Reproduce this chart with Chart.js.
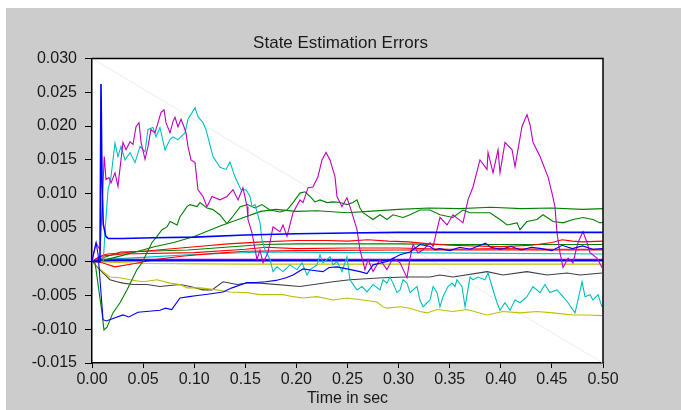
<!DOCTYPE html>
<html>
<head>
<meta charset="utf-8">
<script src="https://cdn.jsdelivr.net/npm/chart.js@4/dist/chart.umd.min.js"></script>
<style>
html,body{margin:0;padding:0;background:#fff;}
#wrap{width:681px;height:410px;}
</style>
</head>
<body>
<div id="wrap"><canvas id="c" width="681" height="410"></canvas></div>
<script>
// ---------- data (time in sec, error) ----------
const chartTitle = "State Estimation Errors";
const xTitle = "Time in sec";
const xTicks = [0,0.05,0.10,0.15,0.20,0.25,0.30,0.35,0.40,0.45,0.50];
const yTicks = [-0.015,-0.010,-0.005,0,0.005,0.010,0.015,0.020,0.025,0.030];

const magentaT = [0,0.001,0.004,0.008,0.010,0.012,0.0137,0.0166,0.0186,0.0225,0.0254,0.0303,0.0333,0.0372,0.0401,0.0431,0.046,0.048,0.0519,0.0548,0.0577,0.0616,0.0646,0.0675,0.0705,0.0724,0.0763,0.0793,0.0812,0.0841,0.0871,0.09,0.092,0.0939,0.0969,0.1008,0.1037,0.1086,0.1125,0.1174,0.1252,0.1321,0.138,0.1429,0.1477,0.1517,0.1526,0.1566,0.1614,0.1644,0.1673,0.1722,0.1771,0.184,0.1869,0.1908,0.1967,0.2035,0.2065,0.2114,0.2162,0.2211,0.225,0.229,0.2329,0.2378,0.2397,0.2446,0.2495,0.2524,0.2555,0.2593,0.2622,0.2671,0.2701,0.275,0.2818,0.2886,0.2945,0.3014,0.3082,0.3112,0.3141,0.319,0.3239,0.3307,0.3337,0.3376,0.3405,0.3474,0.3532,0.363,0.3679,0.3728,0.3796,0.3865,0.3875,0.3924,0.3973,0.3992,0.4041,0.411,0.4139,0.4207,0.4256,0.4286,0.4315,0.4384,0.4462,0.4501,0.453,0.455,0.4579,0.4609,0.4658,0.4706,0.4755,0.4804,0.4843,0.4873,0.4941,0.499];
const magentaV = [0,0.0007,0.0027,0.0017,0.0087,0.0155,0.0121,0.0124,0.0116,0.0131,0.0111,0.0176,0.0165,0.0177,0.0173,0.0199,0.0205,0.0176,0.0151,0.017,0.0195,0.019,0.0205,0.022,0.0224,0.0205,0.019,0.0207,0.0213,0.0199,0.021,0.0199,0.019,0.017,0.015,0.0146,0.0106,0.0096,0.0081,0.0096,0.0091,0.0096,0.0106,0.0091,0.0109,0.0081,0.0062,0.0042,0.0003,0.0017,-0.0002,0.0013,0.0051,0.0044,0.0054,0.0037,0.0072,0.0091,0.0087,0.0109,0.011,0.0125,0.015,0.0161,0.015,0.0125,0.0096,0.0081,0.0094,0.0081,0.0066,0.0047,0.0017,-0.0012,0.0003,-0.0015,0.0003,-0.0012,0.0005,-0.0002,-0.0024,0.0005,0.0025,0.0013,0.0017,0.0028,0.0022,0.0047,0.0065,0.0054,0.0069,0.0057,0.0091,0.011,0.015,0.0136,0.0161,0.0131,0.0165,0.0131,0.0176,0.0165,0.014,0.0199,0.0217,0.0202,0.0176,0.0155,0.0125,0.0101,0.0081,0.0042,0.0013,-0.0009,0.0005,-0.0002,0.0028,0.0044,0.0028,0.0013,0.0005,-0.0009];

const cyanT = [0,0.011,0.013,0.0157,0.0186,0.0225,0.0254,0.0284,0.0323,0.0372,0.0421,0.047,0.0519,0.0548,0.0597,0.0626,0.0665,0.0714,0.0763,0.0793,0.0841,0.091,0.0939,0.1008,0.1037,0.1086,0.1115,0.1184,0.1252,0.1311,0.135,0.1399,0.1458,0.1507,0.1546,0.1566,0.1595,0.1644,0.1663,0.1693,0.1742,0.1771,0.181,0.1869,0.1937,0.2006,0.2055,0.2104,0.2133,0.2202,0.2231,0.226,0.2329,0.2358,0.2397,0.2446,0.2495,0.2524,0.2593,0.2642,0.2691,0.275,0.2818,0.2847,0.2886,0.2916,0.2945,0.2984,0.3014,0.3043,0.3082,0.3112,0.3141,0.318,0.3209,0.3239,0.3278,0.3307,0.3337,0.3376,0.3405,0.3434,0.3483,0.3523,0.3552,0.3571,0.362,0.365,0.3699,0.3728,0.3777,0.3845,0.3875,0.3914,0.3963,0.3992,0.4041,0.409,0.4139,0.4188,0.4256,0.4315,0.4384,0.4432,0.4481,0.455,0.4609,0.4658,0.4726,0.4755,0.4795,0.4824,0.4873,0.4902,0.4951,0.499];
const cyanV = [0,0,0.005,0.0106,0.0125,0.0175,0.0155,0.017,0.015,0.0161,0.0146,0.017,0.0162,0.0195,0.0198,0.0184,0.0198,0.0165,0.018,0.0184,0.018,0.019,0.021,0.0227,0.0214,0.0205,0.0195,0.0155,0.0139,0.0136,0.0147,0.0125,0.0106,0.0106,0.0096,0.0081,0.0084,0.0057,0.0032,0.0017,0.0003,-0.0015,-0.0008,-0.0015,-0.0005,-0.0012,-0.0002,-0.002,-0.0012,-0.0005,0.001,-0.0002,0.0007,-0.0005,0,-0.0015,0.0007,-0.0027,-0.0042,-0.0037,-0.0045,-0.0034,-0.0042,-0.0027,-0.0032,-0.0023,-0.0032,-0.0046,-0.0042,-0.0027,-0.0032,-0.0046,-0.0042,-0.0037,-0.0057,-0.0067,-0.0061,-0.0057,-0.0037,-0.0046,-0.0067,-0.0052,-0.0037,-0.0032,-0.0037,-0.0027,-0.0037,-0.0067,-0.0023,-0.0027,-0.0023,-0.0027,-0.0017,-0.0037,-0.0061,-0.0072,-0.0061,-0.0072,-0.0057,-0.0061,-0.0052,-0.0037,-0.0046,-0.0034,-0.0046,-0.0042,-0.0052,-0.0061,-0.0076,-0.0057,-0.003,-0.0052,-0.0049,-0.0057,-0.0049,-0.0067];

const greenNoisyT = [0,0.003,0.0098,0.0117,0.0147,0.0205,0.0274,0.0342,0.0391,0.044,0.0489,0.0538,0.0587,0.0636,0.0685,0.0734,0.0763,0.0832,0.0861,0.093,0.0959,0.1027,0.1057,0.1125,0.118,0.125,0.132,0.137,0.145,0.152,0.1595,0.1663,0.174,0.184,0.1908,0.1967,0.2035,0.2084,0.2133,0.2182,0.2231,0.23,0.2358,0.2427,0.2495,0.2554,0.2593,0.2622,0.2652,0.275,0.2818,0.2886,0.2945,0.3043,0.3112,0.3209,0.3307,0.3405,0.3532,0.363,0.3699,0.3816,0.3894,0.3992,0.4061,0.4159,0.4188,0.4256,0.4354,0.4413,0.4511,0.4609,0.4706,0.4804,0.4902,0.4971,0.5];
const greenNoisyV = [0,-0.0002,-0.0076,-0.0101,-0.0097,-0.0076,-0.0061,-0.0042,-0.0027,-0.0012,-0.0002,0.0013,0.0028,0.0037,0.0047,0.0051,0.0059,0.0054,0.0066,0.0081,0.0084,0.0081,0.0087,0.0079,0.0077,0.0069,0.0056,0.0065,0.0081,0.0084,0.0079,0.0084,0.0076,0.0073,0.0076,0.0087,0.0101,0.0103,0.0096,0.0088,0.0091,0.0087,0.0088,0.0087,0.0084,0.0087,0.0091,0.0079,0.0072,0.0062,0.0069,0.0062,0.0069,0.0065,0.0069,0.0076,0.0076,0.0069,0.0065,0.0076,0.0072,0.0072,0.0072,0.0062,0.0054,0.0057,0.0047,0.0059,0.0062,0.0069,0.0059,0.0057,0.0062,0.0065,0.0062,0.0057,0.0058];

const greenSmoothT = [0,0.008,0.012,0.03,0.045,0.062,0.08,0.1,0.115,0.128,0.145,0.165,0.18,0.2,0.22,0.25,0.27,0.3,0.33,0.36,0.39,0.42,0.45,0.48,0.5];
const greenSmoothV = [0,0,0.0002,0.0009,0.0015,0.0022,0.0028,0.0037,0.0046,0.0054,0.0063,0.0074,0.0077,0.0074,0.0075,0.0072,0.0074,0.0077,0.0079,0.0078,0.008,0.0078,0.0079,0.0077,0.0078];

const greenFlatT = [0,0.01,0.028,0.094,0.167,0.2,0.25,0.3,0.35,0.4,0.45,0.5];
const greenFlatV = [0,0.0005,0.0014,0.0017,0.0025,0.0026,0.0026,0.0026,0.0025,0.0025,0.0025,0.0025];

const blueSpikeT = [0,0.0078,0.0088,0.0098,0.011,0.0135,0.016,0.03,0.06,0.1,0.15,0.2,0.25,0.3,0.35,0.4,0.45,0.5];
const blueSpikeV = [0,0,0.0262,0.012,0.0055,0.0037,0.0034,0.0034,0.0035,0.0036,0.0039,0.0041,0.0042,0.0043,0.0043,0.0043,0.0043,0.0043];

const blueNoisyT = [0,0.002,0.004,0.006,0.008,0.0108,0.014,0.0303,0.036,0.045,0.0665,0.072,0.078,0.0861,0.095,0.105,0.115,0.1282,0.137,0.1517,0.16,0.17,0.18,0.19,0.1967,0.2065,0.215,0.226,0.232,0.2397,0.2495,0.2622,0.2691,0.275,0.2886,0.3014,0.3112,0.3209,0.3307,0.3356,0.34,0.35,0.36,0.37,0.38,0.385,0.39,0.4,0.41,0.42,0.43,0.44,0.45,0.46,0.47,0.48,0.49,0.5];
const blueNoisyV = [0,0.0015,0.0028,0.001,-0.003,-0.0086,-0.0088,-0.0079,-0.0082,-0.0075,-0.0072,-0.0069,-0.0071,-0.0054,-0.0052,-0.005,-0.0048,-0.0045,-0.0039,-0.0031,-0.0031,-0.003,-0.0028,-0.0024,-0.002,-0.0011,-0.0013,-0.0015,-0.0009,-0.0008,-0.0011,-0.0015,-0.0018,-0.0005,0,0.001,0.0014,0.0025,0.0022,0.0017,0.0019,0.0016,0.0021,0.0018,0.0024,0.0027,0.0021,0.0018,0.0022,0.0017,0.0021,0.0019,0.0016,0.0024,0.0019,0.0023,0.0018,0.0019];

const blueFlatT = [0,0.01,0.05,0.5];
const blueFlatV = [0,0.0001,0.0001,0.0001];

const purpleFlatT = [0,0.01,0.05,0.5];
const purpleFlatV = [0,0.0003,0.0003,0.0003];

const redUpperT = [0,0.005,0.012,0.0157,0.05,0.1037,0.1331,0.1673,0.2,0.23,0.25,0.27,0.29,0.31,0.33,0.35,0.4,0.43,0.45,0.46,0.47,0.48,0.5];
const redUpperV = [0,0.0005,0.001,0.0011,0.0015,0.0022,0.0026,0.0029,0.0031,0.0031,0.003,0.0032,0.003,0.0029,0.0026,0.0024,0.0022,0.0024,0.0028,0.0032,0.003,0.0029,0.003];

const redMidT = [0,0.01,0.03,0.1,0.15,0.17,0.2,0.25,0.3,0.35,0.4,0.45,0.5];
const redMidV = [0,0.0008,0.0011,0.0013,0.0018,0.0021,0.0019,0.002,0.002,0.0018,0.0019,0.0018,0.0018];

const redLowT = [0,0.01,0.0225,0.042,0.0616,0.09,0.12,0.15,0.2,0.3,0.5];
const redLowV = [0,-0.0002,-0.0008,-0.0003,0.0003,0.0008,0.0012,0.0015,0.0016,0.0017,0.0017];

const cyanFlatT = [0,0.01,0.05,0.094,0.167,0.25,0.3,0.4,0.5];
const cyanFlatV = [0,0.0003,0.0006,0.001,0.0014,0.0013,0.0013,0.0012,0.0011];

const yellowLowT = [0,0.001,0.0108,0.0176,0.0274,0.0372,0.0499,0.0636,0.0763,0.0861,0.093,0.1057,0.1223,0.135,0.1517,0.1644,0.1869,0.1967,0.2065,0.2202,0.2358,0.2495,0.2652,0.2789,0.2847,0.2886,0.3014,0.3112,0.3209,0.3278,0.3376,0.3532,0.3669,0.3865,0.4022,0.4188,0.4354,0.4511,0.4706,0.4843,0.499];
const yellowLowV = [0,-0.0002,-0.0015,-0.0023,-0.0024,-0.0027,-0.003,-0.0027,-0.0032,-0.0034,-0.0039,-0.0039,-0.0042,-0.0045,-0.0046,-0.0049,-0.0049,-0.0052,-0.0054,-0.0052,-0.0057,-0.0054,-0.0057,-0.006,-0.0067,-0.0069,-0.0067,-0.0069,-0.0074,-0.0076,-0.0071,-0.0074,-0.0071,-0.0079,-0.0074,-0.0076,-0.0074,-0.0076,-0.0079,-0.0079,-0.008];

const yellowFlatT = [0,0.05,0.15,0.3,0.5];
const yellowFlatV = [0,-0.0003,-0.0004,-0.0004,-0.0004];

const greyT = [0,0.0049,0.0108,0.0176,0.0245,0.0303,0.0401,0.0538,0.0665,0.0861,0.0959,0.1086,0.1174,0.1282,0.1419,0.1517,0.1644,0.2035,0.2358,0.2524,0.2847,0.3082,0.3307,0.3405,0.3532,0.3865,0.4022,0.4256,0.4452,0.4648,0.4775,0.499];
const greyV = [0,-0.0008,-0.0017,-0.0027,-0.003,-0.0032,-0.0034,-0.0034,-0.0037,-0.0034,-0.0037,-0.0042,-0.0042,-0.003,-0.0034,-0.0032,-0.0032,-0.0037,-0.003,-0.0027,-0.0024,-0.0023,-0.0023,-0.002,-0.0023,-0.0015,-0.002,-0.0015,-0.002,-0.0017,-0.002,-0.0017];

const diagT = [0,0.5];
const diagV = [0.030,-0.015];

// ---------- build ----------
function pts(t, v){ return t.map((x,i)=>({x:x, y:v[i]})); }
function ds(t, v, color, w){
  return {data: pts(t,v), borderColor: color, borderWidth: w||1.1, pointRadius:0, fill:false, tension:0, yAxisID:'y'};
}
const BLUE='#0000ff', GREEN='#008000', RED='#ff0000', CYAN='#00bfbf', MAG='#bf00bf', YEL='#bfbf00', GREY='#404040';

const datasets = [
  ds(blueSpikeT, blueSpikeV, BLUE, 1.6),
  ds(blueNoisyT, blueNoisyV, BLUE),
  ds(magentaT, magentaV, MAG),
  ds(cyanT, cyanV, CYAN),
  ds(greenNoisyT, greenNoisyV, GREEN),
  ds(greenSmoothT, greenSmoothV, GREEN),
  ds(blueFlatT, blueFlatV, BLUE, 1.6),
  ds(purpleFlatT, purpleFlatV, '#7f00bf', 1.4),
  ds(redUpperT, redUpperV, RED),
  ds(redMidT, redMidV, RED),
  ds(redLowT, redLowV, RED),
  ds(greenFlatT, greenFlatV, GREEN),
  ds(cyanFlatT, cyanFlatV, CYAN),
  ds(yellowFlatT, yellowFlatV, YEL),
  ds(yellowLowT, yellowLowV, YEL),
  ds(greyT, greyV, GREY),
  ds(diagT, diagV, '#ececec', 1)
];

const bgPlugin = {
  id:'bg',
  beforeDraw(chart){
    const c = chart.ctx, a = chart.chartArea;
    c.save();
    c.fillStyle = '#ffffff';
    c.fillRect(0,0,chart.width,chart.height);
    c.fillStyle = '#cccccc';
    c.fillRect(6,8,chart.width-6,chart.height-8);
    c.fillStyle = '#ffffff';
    c.fillRect(a.left,a.top,a.right-a.left,a.bottom-a.top);
    c.restore();
  },
  afterDraw(chart){
    const c = chart.ctx, a = chart.chartArea;
    c.save();
    c.strokeStyle = '#000';
    c.lineWidth = 1.5;
    c.beginPath();
    c.moveTo(a.left, a.top); c.lineTo(a.right, a.top); c.lineTo(a.right, a.bottom);
    c.stroke();
    c.restore();
  }
};

const FONT = "'Liberation Sans', Arial, sans-serif";

new Chart(document.getElementById('c'), {
  type:'line',
  data:{datasets},
  plugins:[bgPlugin],
  options:{
    responsive:false,
    animation:false,
    events:[],
    layout:{padding:{left:0,right:0,top:0,bottom:0}, autoPadding:false},
    plugins:{
      legend:{display:false},
      tooltip:{enabled:false},
      title:{display:true, text:chartTitle, color:'#1a1a1a',
        font:{family:FONT, size:17, weight:'normal'}, padding:{top:33,bottom:5}}
    },
    scales:{
      x:{type:'linear', min:0, max:0.5,
        afterBuildTicks(axis){ axis.ticks = xTicks.map(v=>({value:v})); },
        afterFit(axis){ axis.height = 47; },
        ticks:{color:'#1a1a1a', font:{family:FONT,size:16}, padding:2, maxRotation:0,
          callback:(v)=>Number(v).toFixed(2)},
        grid:{drawOnChartArea:false, drawTicks:true, tickLength:5, color:'#000', tickColor:'#000'},
        border:{display:true, color:'#000', width:1.5},
        title:{display:true, text:xTitle, color:'#1a1a1a', font:{family:FONT,size:16}, padding:{top:0,bottom:2}}
      },
      y:{type:'linear', position:'left', min:-0.015, max:0.030,
        afterBuildTicks(axis){ axis.ticks = yTicks.map(v=>({value:v})); },
        afterFit(axis){ axis.width = 92; },
        ticks:{color:'#1a1a1a', font:{family:FONT,size:16}, padding:8,
          callback:(v)=>Number(v).toFixed(3)},
        grid:{drawOnChartArea:false, drawTicks:true, tickLength:7, color:'#000', tickColor:'#000'},
        border:{display:true, color:'#000', width:1.5}
      },
      yRight:{type:'linear', position:'right', min:-0.015, max:0.030,
        afterFit(axis){ axis.width = 78; },
        ticks:{display:false},
        grid:{display:false, drawTicks:false},
        border:{display:false}
      }
    }
  }
});
</script>
</body>
</html>
